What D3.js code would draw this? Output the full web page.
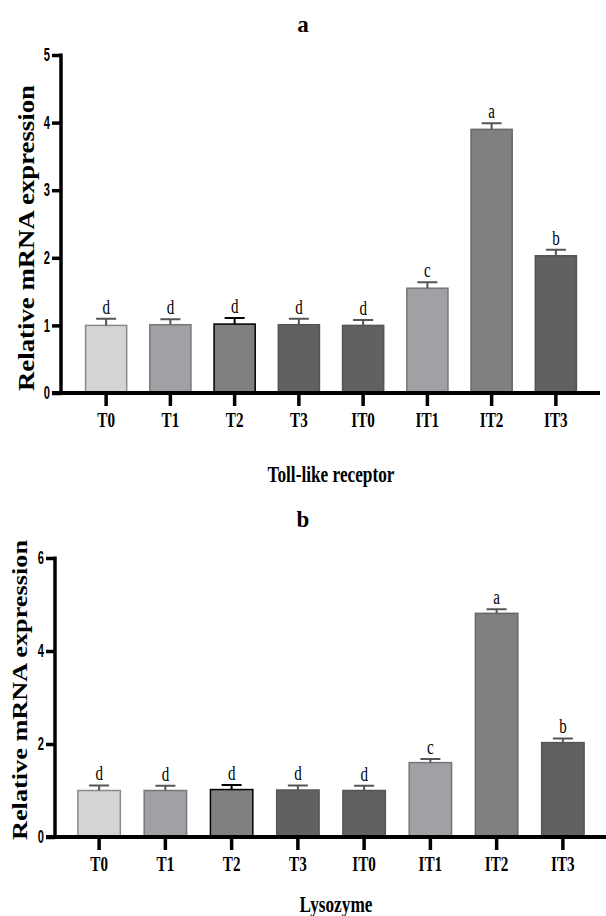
<!DOCTYPE html>
<html>
<head>
<meta charset="utf-8">
<script src="https://cdn.jsdelivr.net/npm/d3@7"></script>
<style>
  body { margin: 0; background: #fff; }
  svg text { font-family: "Liberation Serif", "DejaVu Serif", serif; }
</style>
</head>
<body>
<svg id="chart" width="606" height="916"></svg>
<script>
// groups on the x axis
const groups = ["T0", "T1", "T2", "T3", "IT0", "IT1", "IT2", "IT3"];

// panel a: Toll-like receptor
const tlrMeans = [1.0, 1.01, 1.02, 1.01, 1.0, 1.55, 3.9, 2.03];
const tlrErrors = [0.1, 0.08, 0.09, 0.09, 0.08, 0.09, 0.09, 0.09];
const tlrLetters = ["d", "d", "d", "d", "d", "c", "a", "b"];
const tlrTicks = [0, 1, 2, 3, 4, 5];

// panel b: Lysozyme
const lysMeans = [1.0, 1.0, 1.02, 1.01, 1.0, 1.6, 4.81, 2.03];
const lysErrors = [0.11, 0.1, 0.1, 0.1, 0.1, 0.08, 0.09, 0.09];
const lysLetters = ["d", "d", "d", "d", "d", "c", "a", "b"];
const lysTicks = [0, 2, 4, 6];

// bar styles per group
const fills = ["#d4d4d4", "#a1a1a5", "#808080", "#616161", "#616161", "#a1a1a5", "#808080", "#616161"];
const strokes = ["#8a8a8a", "#777", "#000", "#555", "#555", "#777", "#666", "#555"];

const svg = d3.select("#chart");

// squeeze text horizontally, the original uses a narrow face
function condense(sel, factor) {
  sel.each(function () {
    const w = this.getComputedTextLength();
    d3.select(this).attr("textLength", w * factor).attr("lengthAdjust", "spacingAndGlyphs");
  });
}

function drawPanel(opts) {
  const g = svg.append("g");
  const x = d3.scaleBand().domain(groups).range([opts.x0, opts.x1]).paddingInner(0.36).paddingOuter(0.18);
  const y = d3.scaleLinear().domain([0, opts.yMax]).range([opts.yBottom, opts.yTop]);

  // panel title
  g.append("text")
    .attr("x", 303).attr("y", opts.titleY)
    .attr("text-anchor", "middle")
    .style("font-weight", "bold").style("font-size", "23px")
    .text(opts.title);

  // bars
  const rows = groups.map((grp, i) => ({ grp, i, v: opts.means[i], e: opts.errors[i], l: opts.letters[i] }));

  g.selectAll(".bar").data(rows).enter().append("rect")
    .attr("x", d => x(d.grp))
    .attr("y", d => y(d.v))
    .attr("width", x.bandwidth())
    .attr("height", d => y(0) - y(d.v))
    .attr("fill", d => fills[d.i])
    .attr("stroke", d => strokes[d.i])
    .attr("stroke-width", 1.5);

  // upper error bars
  const capW = 20;
  g.selectAll(".err").data(rows).enter().append("path")
    .attr("d", d => {
      const cx = x(d.grp) + x.bandwidth() / 2;
      return `M${cx},${y(d.v)}V${y(d.v + d.e)}M${cx - capW / 2},${y(d.v + d.e)}H${cx + capW / 2}`;
    })
    .attr("stroke", d => (d.i === 2 ? "#000" : "#555"))
    .attr("stroke-width", 2)
    .attr("fill", "none");

  // significance letters
  g.selectAll(".sig").data(rows).enter().append("text")
    .attr("x", d => x(d.grp) + x.bandwidth() / 2)
    .attr("y", d => y(d.v + d.e) - 5)
    .attr("text-anchor", "middle")
    .style("font-size", "20px")
    .text(d => d.l)
    .call(condense, 0.75);

  // y axis
  const yAxis = g.append("g")
    .attr("transform", `translate(${opts.axisX},0)`)
    .call(d3.axisLeft(y).tickValues(opts.ticks).tickSize(9).tickSizeOuter(0).tickFormat(d3.format("d")));
  yAxis.select(".domain").attr("stroke-width", 3.5).attr("d", `M0,${y(opts.yMax) - 1.5}V${y(0)}`);
  yAxis.selectAll(".tick line").attr("stroke-width", 3.5);
  yAxis.selectAll(".tick text")
    .attr("x", -11)
    .style("font-family", "'Liberation Sans', sans-serif")
    .style("font-weight", "bold").style("font-size", "18px")
    .call(condense, 0.62);

  // x axis
  const xAxis = g.append("g")
    .attr("transform", `translate(0,${opts.yBottom})`)
    .call(d3.axisBottom(x).tickSize(13).tickSizeOuter(0));
  xAxis.select(".domain").attr("stroke-width", 4).attr("d", `M${opts.axisX - 9},0H${opts.axisEnd}`);
  xAxis.selectAll(".tick line").attr("stroke-width", 3.5);
  xAxis.selectAll(".tick text")
    .attr("y", 19)
    .style("font-weight", "bold").style("font-size", "21px")
    .call(condense, 0.72);

  // axis titles
  g.append("text")
    .attr("transform", `translate(${opts.yLabelX},${opts.yLabelY}) rotate(-90)`)
    .attr("text-anchor", "middle")
    .attr("textLength", opts.yLabelLen)
    .attr("lengthAdjust", "spacingAndGlyphs")
    .style("font-weight", "bold").style("font-size", opts.yLabelSize)
    .text("Relative mRNA expression");

  g.append("text")
    .attr("x", opts.xLabelX).attr("y", opts.xLabelY)
    .attr("text-anchor", "middle")
    .style("font-weight", "bold").style("font-size", "23px")
    .text(opts.xLabel)
    .call(condense, 0.75);
}

drawPanel({
  title: "a", titleY: 32,
  means: tlrMeans, errors: tlrErrors, letters: tlrLetters, ticks: tlrTicks, yMax: 5,
  x0: 74, x1: 588, yTop: 55, yBottom: 393, axisX: 61, axisEnd: 600,
  yLabelX: 34, yLabelY: 238, yLabelLen: 306, yLabelSize: "24px",
  xLabel: "Toll-like receptor", xLabelX: 331, xLabelY: 482
});

drawPanel({
  title: "b", titleY: 527,
  means: lysMeans, errors: lysErrors, letters: lysLetters, ticks: lysTicks, yMax: 6,
  x0: 66, x1: 596, yTop: 558, yBottom: 837, axisX: 55, axisEnd: 606,
  yLabelX: 27, yLabelY: 690, yLabelLen: 300, yLabelSize: "22px",
  xLabel: "Lysozyme", xLabelX: 336, xLabelY: 912
});
</script>
</body>
</html>
